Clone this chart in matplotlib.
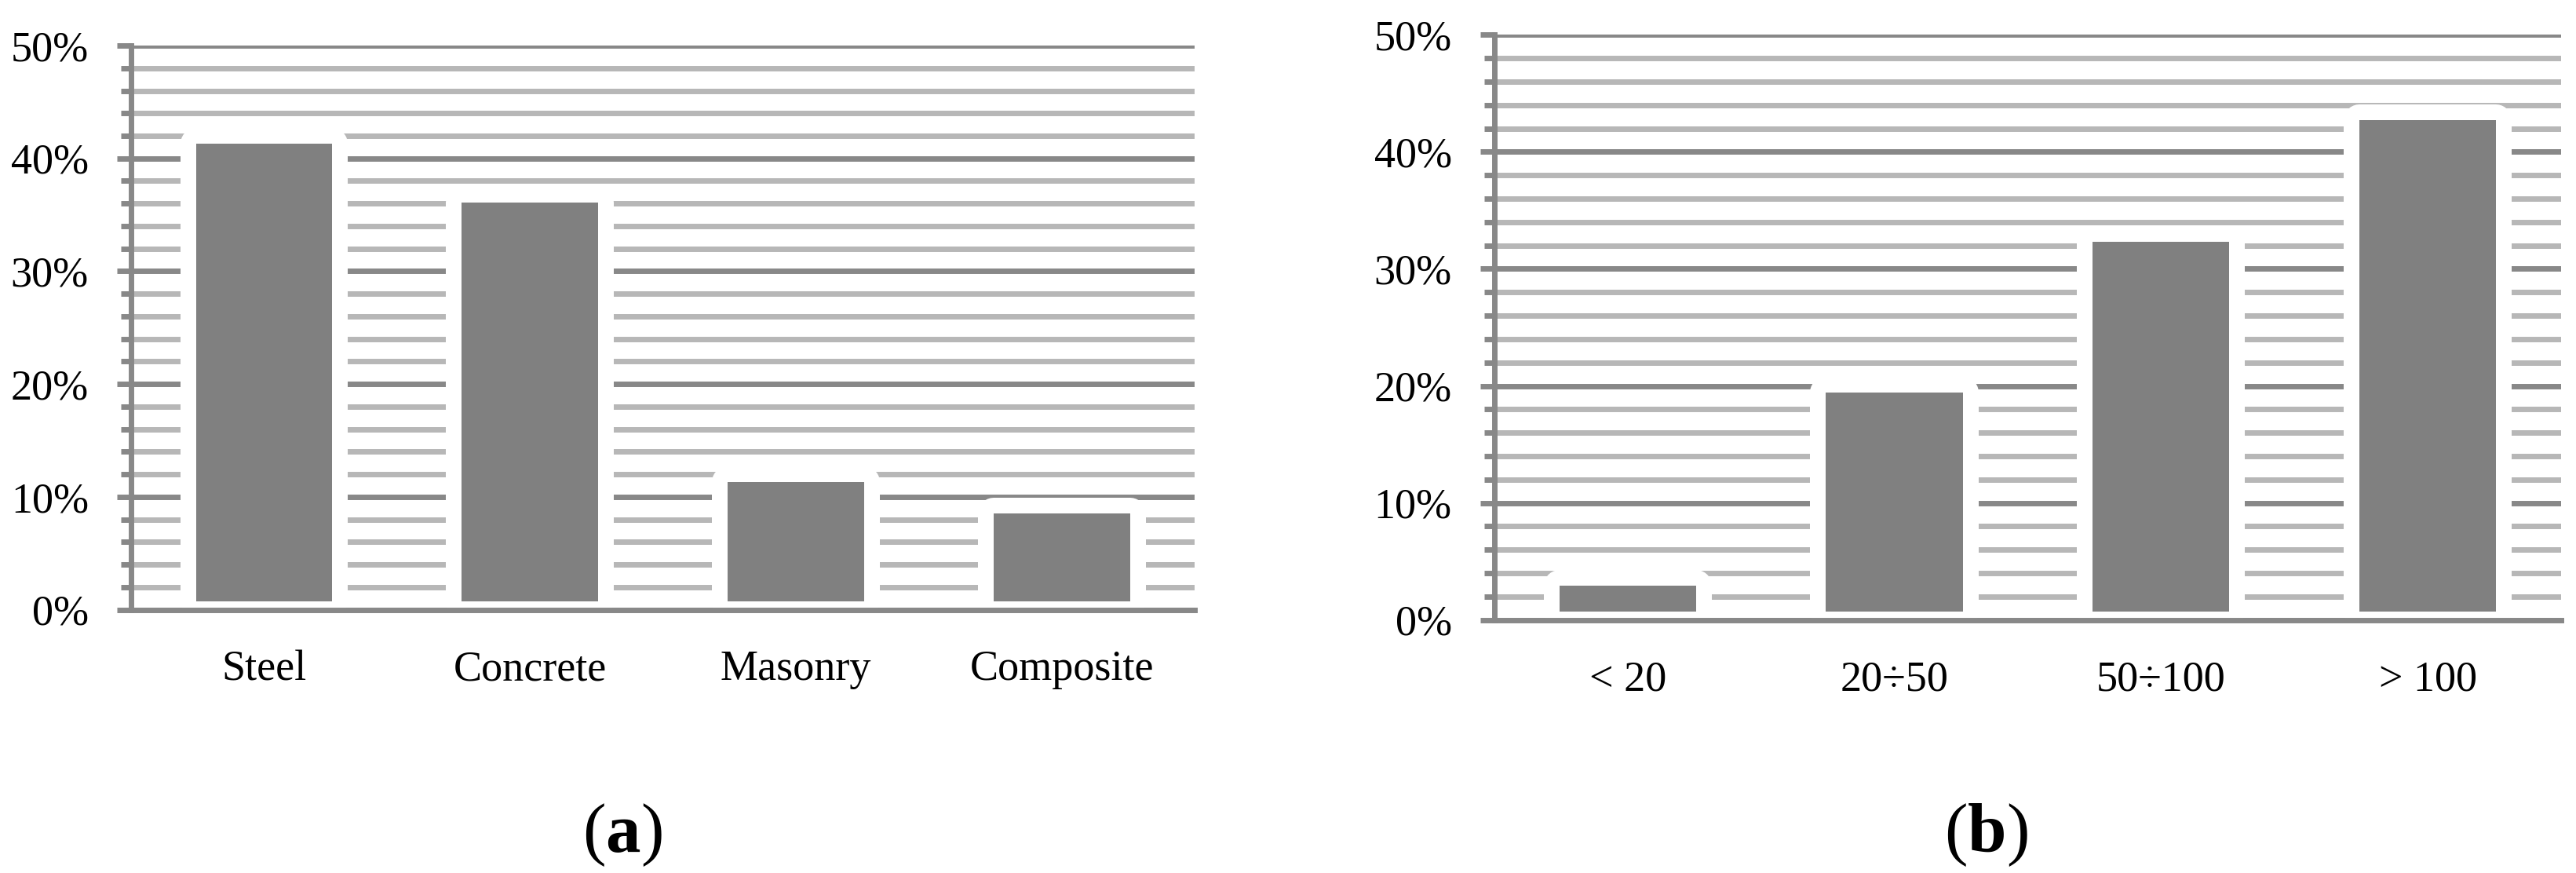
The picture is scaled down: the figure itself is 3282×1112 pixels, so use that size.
import matplotlib
matplotlib.use("Agg")
import matplotlib.pyplot as plt
import matplotlib.patheffects as pe
from matplotlib.ticker import MultipleLocator, FuncFormatter

# --- data (percent of cases) ---
materials = ["Steel", "Concrete", "Masonry", "Composite"]
material_share = [41.3, 36.1, 11.3, 8.5]

spans = ["< 20", "20÷50", "50÷100", "> 100"]
span_share = [2.9, 19.4, 32.3, 42.7]

panel_tags = ["a", "b"]

# --- style ---
BAR_COLOR = "#808080"
MAJOR_COLOR = "#888888"
MINOR_COLOR = "#b7b7b7"
LINE_W = 5.0          # pt, about 7 px at 100 dpi
BAR_W = 0.513
BAR_BASE = 0.7        # small white gap above the baseline
FONT = "Liberation Serif"

plt.rcParams["font.family"] = FONT
plt.rcParams["mathtext.fontset"] = "custom"
plt.rcParams["mathtext.rm"] = FONT
plt.rcParams["mathtext.bf"] = FONT + ":bold"

fig = plt.figure(figsize=(32.82, 11.12), dpi=100)

# axes rectangles in figure fractions (left, bottom, width, height)
ax_a = fig.add_axes([0.0509, 0.3017, 0.4129, 0.6461])
ax_b = fig.add_axes([0.5801, 0.2900, 0.4141, 0.6700])


def draw_panel(ax, cats, vals):
    x = list(range(len(cats)))
    heights = [v - BAR_BASE for v in vals]
    ax.bar(x, heights, bottom=BAR_BASE, width=BAR_W, color=BAR_COLOR,
           linewidth=0, zorder=2,
           path_effects=[pe.Stroke(linewidth=28.8, foreground="white",
                                   joinstyle="round"),
                         pe.Normal()])

    ax.set_xlim(-0.5, len(cats) - 0.5)
    ax.set_ylim(0, 50)
    ax.yaxis.set_major_locator(MultipleLocator(10))
    ax.yaxis.set_minor_locator(MultipleLocator(2))
    ax.yaxis.set_major_formatter(FuncFormatter(lambda v, _: f"{v:.0f}%"))

    ax.set_axisbelow(True)
    ax.grid(axis="y", which="major", color=MAJOR_COLOR, lw=LINE_W)
    ax.grid(axis="y", which="minor", color=MINOR_COLOR, lw=LINE_W)

    for side in ["top", "right"]:
        ax.spines[side].set_visible(False)
    for side in ["left", "bottom"]:
        ax.spines[side].set_color(MAJOR_COLOR)
        ax.spines[side].set_linewidth(LINE_W)
        ax.spines[side].set_zorder(3)

    ax.tick_params(axis="y", which="major", length=13, width=LINE_W,
                   color=MAJOR_COLOR, pad=26, labelsize=39)
    ax.tick_params(axis="y", which="minor", length=9.4, width=LINE_W,
                   color=MAJOR_COLOR)
    ax.set_xticks(x)
    ax.set_xticklabels(cats)
    ax.tick_params(axis="x", length=0, pad=37, labelsize=39)


draw_panel(ax_a, materials, material_share)
draw_panel(ax_b, spans, span_share)

for tag, xc in zip(panel_tags, [0.2416, 0.7709]):
    fig.text(xc, 0.0243, r"($\mathbf{" + tag + r"}$)", ha="center",
             va="baseline", fontsize=64)

fig.savefig("out.png", dpi=100)
